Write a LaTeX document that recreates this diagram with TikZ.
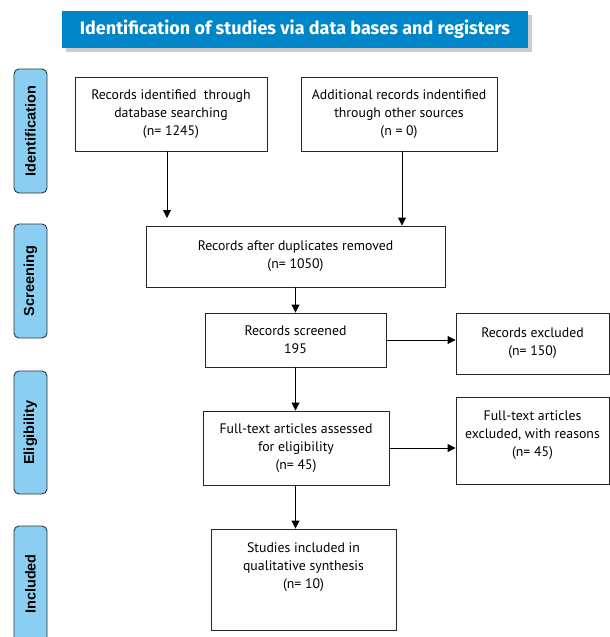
\documentclass[tikz,border=0pt]{standalone}
\usepackage{fontspec}
\setmainfont{PT Sans}
\newfontfamily\titlefont{Fira Sans}
\newfontfamily\sidefont{Liberation Sans}
\usetikzlibrary{positioning, arrows.meta, shadows}

\definecolor{bannerblue}{HTML}{0086C8}
\definecolor{sideblue}{HTML}{8ACFF2}

\begin{document}
\begin{tikzpicture}[x=1pt, y=-1pt,
    box/.style={draw=black!85, line width=0.9pt, fill=white, align=center,
                inner sep=0pt, font=\fontsize{13.8}{18}\selectfont},
    sidebox/.style={draw=black!80, line width=0.9pt, fill=sideblue, rounded corners=5pt,
                    rotate=90, inner sep=0pt, minimum height=33pt,
                    font=\sidefont\bfseries\fontsize{14.5}{16}\selectfont},
    flow/.style={-{Triangle[width=8pt, length=8pt]}, line width=0.9pt}]
    \useasboundingbox (0,0) rectangle (610,637);

    % banner
    \node[fill=bannerblue, minimum width=466pt, minimum height=37pt, inner sep=0pt,
          drop shadow={shadow xshift=4pt, shadow yshift=-4pt, fill=black!40},
          text=white, font=\titlefont\bfseries\fontsize{18}{20}\selectfont] (banner) at (295, 29)
          {Identification of studies via data bases and registers};

    % phases
    \node[sidebox, minimum width=124pt] (ident) at (30.5, 131) {Identification};
    \node[sidebox, minimum width=114pt] (screen) at (30.5, 281) {Screening};
    \node[sidebox, minimum width=123pt] (elig) at (30.5, 432.5) {Eligibility};
    \node[sidebox, minimum width=116pt] (incl) at (30.5, 584) {Included};

    % boxes
    \node[box, minimum width=192pt, minimum height=74pt] (dbsearch) at (171, 114)
        {Records identified\ \ through\\database searching\\(n= 1245)};
    \node[box, minimum width=196pt, minimum height=74pt] (othersrc) at (399, 114)
        {Additional records indentified\\through other sources\\(n = 0)};
    \node[box, minimum width=299pt, minimum height=61pt] (dedup) at (295.5, 256.5)
        {Records after duplicates removed\\(n= 1050)};
    \node[box, minimum width=181pt, minimum height=54pt] (screened) at (295.5, 340)
        {Records screened\\195};
    \node[box, minimum width=153pt, minimum height=61pt] (recexcl) at (532.5, 343.5)
        {Records excluded\\(n= 150)};
    \node[box, minimum width=186pt, minimum height=74pt] (fulltext) at (296, 448)
        {Full-text articles assessed\\for eligibility\\(n= 45)};
    \node[box, minimum width=153pt, minimum height=87pt] (ftexcl) at (532.5, 440.5)
        {Full-text articles\\excluded, with reasons\\(n= 45)\\[-5pt]};
    \node[box, minimum width=185pt, minimum height=101pt] (included) at (303.5, 579.5)
        {Studies included in\\qualitative synthesis\\(n= 10)\\[9pt]};

    % arrows
    \coordinate (dbend) at (167, 218);
    \draw[flow] (dbsearch.south -| dbend) -- (dbend);
    \draw[flow] (othersrc.south -| 402, 0) -- (dedup.north -| 402, 0);
    \draw[flow] (dedup.south -| screened) -- (screened.north);
    \draw[flow] (screened.east) -- (recexcl.west |- screened.east);
    \draw[flow] (screened.south) -- (fulltext.north -| screened);
    \draw[flow] (fulltext.east) -- (ftexcl.west |- fulltext.east);
    \draw[flow] (fulltext.south -| screened) -- (included.north -| screened);
\end{tikzpicture}
\end{document}
